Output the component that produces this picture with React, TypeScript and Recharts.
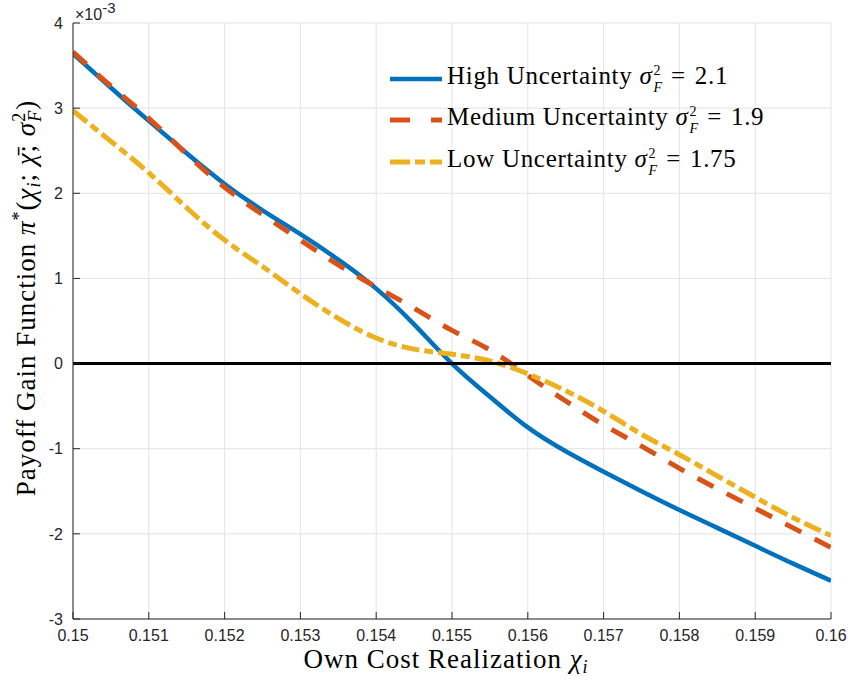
import { CartesianGrid, Label, Legend, Line, LineChart, ReferenceLine, XAxis, YAxis } from 'recharts';

const xValues = [
	0.15, 0.1505, 0.151, 0.1515, 0.152, 0.1525, 0.153, 0.1535, 0.154, 0.1545, 0.155,
	0.1555, 0.156, 0.1565, 0.157, 0.1575, 0.158, 0.1585, 0.159, 0.1595, 0.16
];

// values in units of 1e-3
const highUncertainty = [
	3.64, 3.24, 2.85, 2.47, 2.11, 1.8, 1.52, 1.22, 0.88, 0.46, 0.0,
	-0.39, -0.75, -1.03, -1.27, -1.5, -1.72, -1.93, -2.14, -2.35, -2.55
];
const mediumUncertainty = [
	3.66, 3.26, 2.88, 2.46, 2.07, 1.75, 1.45, 1.16, 0.9, 0.65, 0.39,
	0.16, -0.14, -0.44, -0.72, -0.97, -1.23, -1.47, -1.7, -1.93, -2.16
];
const lowUncertainty = [
	2.97, 2.61, 2.24, 1.83, 1.45, 1.14, 0.82, 0.53, 0.3, 0.17, 0.11,
	0.03, -0.12, -0.32, -0.56, -0.83, -1.07, -1.32, -1.57, -1.81, -2.02
];

const xTicks = [0.15, 0.151, 0.152, 0.153, 0.154, 0.155, 0.156, 0.157, 0.158, 0.159, 0.16];
const yTicks = [-3, -2, -1, 0, 1, 2, 3, 4];

const seriesLabels = ['High Uncertainty', 'Medium Uncertainty', 'Low Uncertainty'];
const seriesSigma = ['2.1', '1.9', '1.75'];

const data = xValues.map((x, i) => ({
	x,
	high: highUncertainty[i],
	medium: mediumUncertainty[i],
	low: lowUncertainty[i]
}));

const BLUE = '#0072BD';
const RED = '#D95319';
const YELLOW = '#EDB120';
const AXIS = '#262626';
const SERIF = '"Liberation Serif", "DejaVu Serif", serif';
const SANS = '"Liberation Sans", Arial, sans-serif';

const legendStyles = [
	{ color: BLUE, dash: undefined, width: 4.5 },
	{ color: RED, dash: '20 21', width: 5 },
	{ color: YELLOW, dash: '20 5 10 5', width: 5 }
];

function SigmaF() {
	return (
		<span>
			<i>σ</i>
			<span
				style={{
					display: 'inline-flex',
					flexDirection: 'column',
					fontSize: 14,
					lineHeight: '17px',
					verticalAlign: '9px',
					marginLeft: 1,
					letterSpacing: 0
				}}
			>
				<span>2</span>
				<i>F</i>
			</span>
		</span>
	);
}

function CustomLegend() {
	return (
		<div style={{ fontFamily: SERIF, fontSize: 25, letterSpacing: 0.7, color: '#000' }}>
			{seriesLabels.map((label, i) => (
				<div key={label} style={{ display: 'flex', alignItems: 'center', height: 41.5 }}>
					<svg width={56} height={10} style={{ marginRight: 1 }}>
						<line
							x1={0}
							y1={5}
							x2={52}
							y2={5}
							stroke={legendStyles[i].color}
							strokeWidth={legendStyles[i].width}
							strokeDasharray={legendStyles[i].dash}
						/>
					</svg>
					<span style={{ whiteSpace: 'nowrap' }}>
						{label} <SigmaF />
						<span style={{ margin: '0 9px' }}>=</span>
						{seriesSigma[i]}
					</span>
				</div>
			))}
		</div>
	);
}

function YLabel() {
	return (
		<g>
			<text x={75} y={20} fontFamily={SANS} fontSize={16} fill={AXIS}>
				×10
				<tspan dy={-7} fontSize={15}>
					-3
				</tspan>
			</text>
			<text
				transform="translate(35, 298) rotate(-90)"
				textAnchor="middle"
				fontFamily={SERIF}
				fontSize={27}
				letterSpacing={1}
				fill="#000"
			>
				Payoff Gain Function <tspan fontStyle="italic">π</tspan>
				<tspan dy={-10} fontSize={18}>*</tspan>
				<tspan dy={10}>(</tspan>
				<tspan fontStyle="italic">χ</tspan>
				<tspan dy={5} fontSize={18} fontStyle="italic">i</tspan>
				<tspan dy={-5}>; </tspan>
				<tspan fontStyle="italic">χ̄</tspan>
				<tspan>; </tspan>
				<tspan fontStyle="italic">σ</tspan>
				<tspan dy={-10} fontSize={18}>2</tspan>
				<tspan dx={-10} dy={16} fontSize={18} fontStyle="italic">F</tspan>
				<tspan dy={-6}>)</tspan>
			</text>
		</g>
	);
}

function XLabel() {
	return (
		<text
			x={446}
			y={668}
			textAnchor="middle"
			fontFamily={SERIF}
			fontSize={27}
			letterSpacing={1}
			fill="#000"
		>
			Own Cost Realization <tspan fontStyle="italic">χ</tspan>
			<tspan dy={5} fontSize={18} fontStyle="italic">i</tspan>
		</text>
	);
}

export default function App() {
	return (
		<div style={{ position: 'absolute', left: 0, top: 0, width: 850, height: 685, background: '#fff' }}>
			<LineChart
				width={850}
				height={685}
				data={data}
				margin={{ top: 23, right: 19, left: 13, bottom: 36 }}
			>
				<CartesianGrid stroke="#e3e3e3" strokeWidth={1} />
				<XAxis
					dataKey="x"
					type="number"
					domain={[0.15, 0.16]}
					ticks={xTicks}
					tickFormatter={(v: number) => String(v)}
					allowDataOverflow
					height={30}
					stroke={AXIS}
					fontSize={16}
					tickSize={-7}
					tickMargin={18}
					tick={{ fill: AXIS, fontSize: 16, fontFamily: SANS }}
				>
					<Label content={<XLabel />} />
				</XAxis>
				<YAxis
					type="number"
					domain={[-3, 4]}
					ticks={yTicks}
					allowDataOverflow
					width={60}
					stroke={AXIS}
					fontSize={16}
					tickSize={-7}
					tickMargin={17}
					tick={{ fill: AXIS, fontSize: 16, fontFamily: SANS }}
				>
					<Label content={<YLabel />} />
				</YAxis>
				<Legend
					layout="vertical"
					align="center"
					verticalAlign="middle"
					content={<CustomLegend />}
					wrapperStyle={{ position: 'absolute', left: 390, top: 58, width: 'auto', height: 'auto' }}
				/>
				<Line
					type="natural"
					dataKey="high"
					stroke={BLUE}
					strokeWidth={4.5}
					dot={false}
					activeDot={false}
					isAnimationActive={false}
				/>
				<Line
					type="natural"
					dataKey="medium"
					stroke={RED}
					strokeWidth={5}
					strokeDasharray="18 15"
					dot={false}
					activeDot={false}
					isAnimationActive={false}
				/>
				<Line
					type="natural"
					dataKey="low"
					stroke={YELLOW}
					strokeWidth={5}
					strokeDasharray="18 5 9 5"
					dot={false}
					activeDot={false}
					isAnimationActive={false}
				/>
				<ReferenceLine y={0} stroke="#000" strokeWidth={3} />
			</LineChart>
		</div>
	);
}
